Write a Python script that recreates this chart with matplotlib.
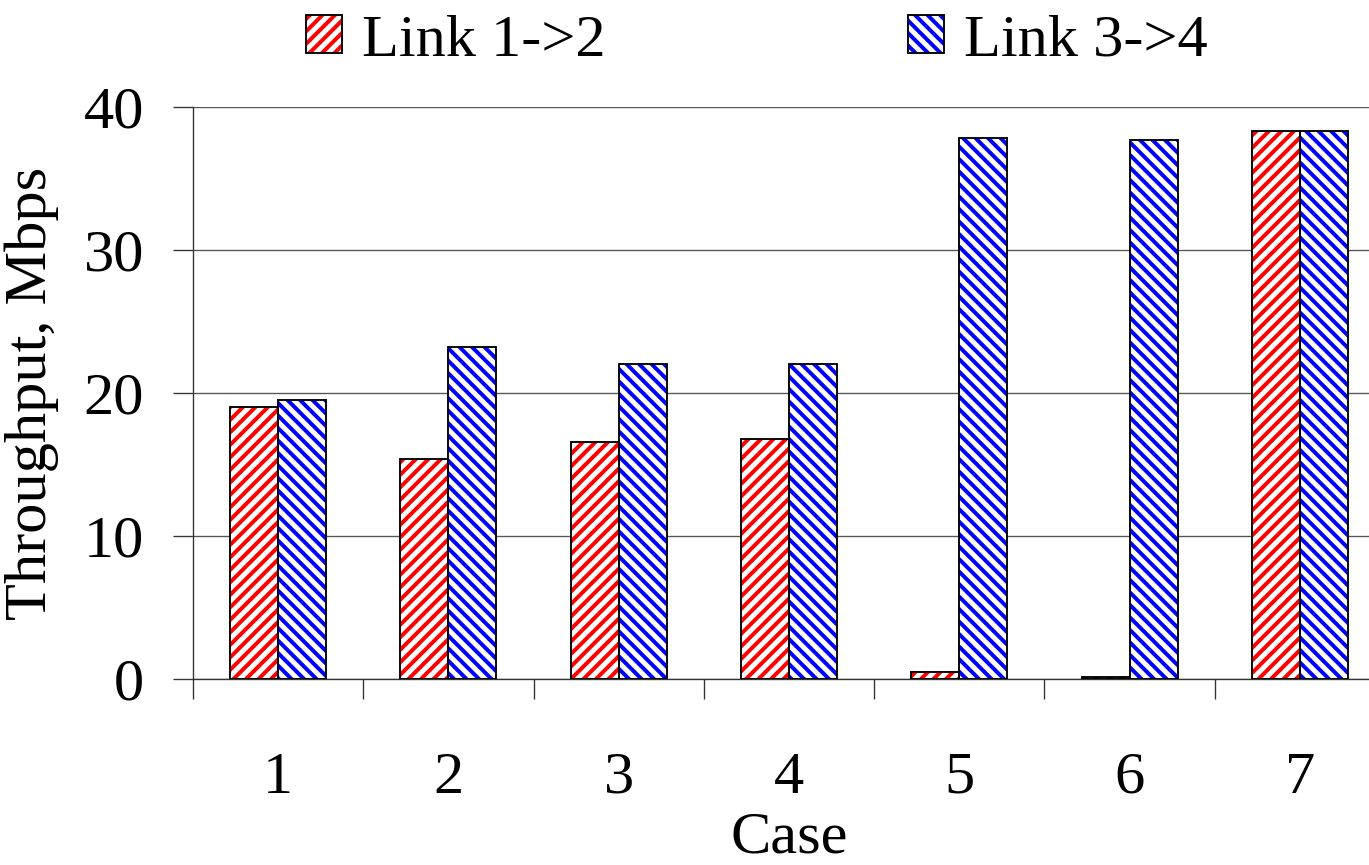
import numpy as np
import matplotlib
matplotlib.use("Agg")
import matplotlib.pyplot as plt
from matplotlib.patches import Patch
from matplotlib.legend_handler import HandlerTuple

cases = ["1", "2", "3", "4", "5", "6", "7"]
link_12 = [19.0, 15.4, 16.6, 16.8, 0.5, 0.15, 38.3]
link_34 = [19.5, 23.2, 22.0, 22.0, 37.8, 37.7, 38.3]
series_names = ["Link 1->2", "Link 3->4"]

plt.rcParams['font.family'] = ['Liberation Serif', 'DejaVu Serif']
plt.rcParams['hatch.linewidth'] = 3.8

DPI = 75
fig = plt.figure(figsize=(1369 / DPI, 865 / DPI), dpi=DPI)
ax = fig.add_axes([193 / 1369, 1 - 679 / 865, 1192 / 1369, 572 / 865])

x = np.arange(1, len(cases) + 1)
w = 0.282
fs = 58

# hatch layer then black outline on top
ax.bar(x - w / 2, link_12, w, facecolor='white', edgecolor='red', hatch='//', linewidth=0, zorder=2)
ax.bar(x + w / 2, link_34, w, facecolor='white', edgecolor='blue', hatch='\\\\', linewidth=0, zorder=2)
ax.bar(x - w / 2, link_12, w, fill=False, edgecolor='black', linewidth=1.8, zorder=3)
ax.bar(x + w / 2, link_34, w, fill=False, edgecolor='black', linewidth=1.8, zorder=3)

ax.set_xlim(0.5, 7.5)
ax.set_ylim(0, 40)
ax.set_yticks([0, 10, 20, 30, 40])
ax.yaxis.grid(True, color='#555555', linewidth=1.3, zorder=0)
ax.set_axisbelow(True)

ax.set_xticks(np.arange(0.5, 8.0, 1.0))
ax.set_xticklabels([])
ax.set_xticks(x, minor=True)
ax.set_xticklabels(cases, minor=True)
ax.tick_params(axis='x', which='major', direction='out', length=19, width=1.3, color='#333333')
ax.tick_params(axis='x', which='minor', length=0, pad=70, labelsize=fs)
ax.tick_params(axis='y', direction='out', length=19, width=1.3, color='#333333', pad=28, labelsize=fs)

for s in ['top', 'right']:
    ax.spines[s].set_visible(False)
for s in ['left', 'bottom']:
    ax.spines[s].set_color('#333333')
    ax.spines[s].set_linewidth(1.3)

ax.set_xlabel("Case", fontsize=fs, labelpad=5)
ax.set_ylabel("Throughput, Mbps", fontsize=fs)
ax.yaxis.set_label_coords(-0.112, 0.5)

h1 = (Patch(facecolor='white', edgecolor='red', hatch='//', linewidth=0),
      Patch(fill=False, edgecolor='black', linewidth=1.8))
h2 = (Patch(facecolor='white', edgecolor='blue', hatch='\\\\', linewidth=0),
      Patch(fill=False, edgecolor='black', linewidth=1.8))
fig.legend([h1, h2], series_names, loc='center', bbox_to_anchor=(0.553, 0.952),
           ncol=2, frameon=False, fontsize=fs, handlelength=0.6, handleheight=0.6,
           handletextpad=0.33, columnspacing=5.0,
           handler_map={tuple: HandlerTuple(ndivide=1)})

fig.savefig("out.png", dpi=DPI)
